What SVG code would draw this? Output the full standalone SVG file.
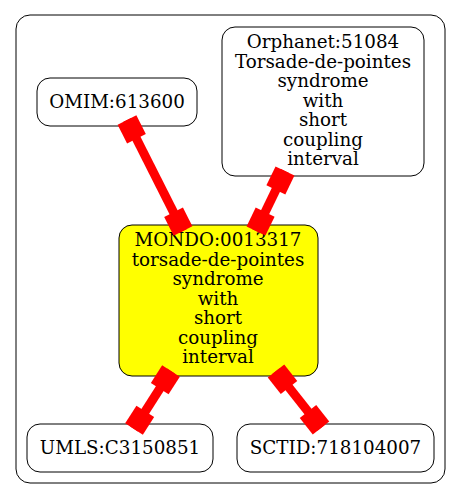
<svg xmlns="http://www.w3.org/2000/svg" width="461" height="499" viewBox="0 0 461 499">
<style>
.node rect{stroke:#000;stroke-width:1;fill:#fff}
.node.focus rect{fill:#ffff00}
text{font-family:"DejaVu Serif","Liberation Serif",serif;font-size:18.3px;text-anchor:middle;fill:#000}
.edge{stroke:#ff0000;stroke-width:9;fill:none;marker-start:url(#box);marker-end:url(#box)}
</style>
<defs>
<marker id="box" markerUnits="userSpaceOnUse" orient="auto-start-reverse" viewBox="-24 -13 26 26" refX="0" refY="0" markerWidth="26" markerHeight="26">
<rect x="-21" y="-10.5" width="21" height="21" fill="#ff0000"/>
</marker>
</defs>
<rect x="16" y="15" width="429" height="468" rx="14" ry="14" fill="#fff" stroke="#000" stroke-width="1"/>
<g id="n_omim" class="node">
<rect x="37" y="78" width="160" height="48" rx="13" ry="13"/>
<text x="117" y="108">OMIM:613600</text>
</g>
<g id="n_orphanet" class="node">
<rect x="222" y="27" width="202" height="149" rx="13" ry="13"/>
<text x="323" y="48">Orphanet:51084</text>
<text x="323" y="67.5">Torsade-de-pointes</text>
<text x="323" y="87">syndrome</text>
<text x="323" y="106.5">with</text>
<text x="323" y="126">short</text>
<text x="323" y="145.5">coupling</text>
<text x="323" y="165">interval</text>
</g>
<g id="n_mondo" class="node focus">
<rect x="119" y="225" width="199" height="151" rx="13" ry="13"/>
<text x="218" y="246">MONDO:0013317</text>
<text x="218" y="265.5">torsade-de-pointes</text>
<text x="218" y="285">syndrome</text>
<text x="218" y="304.5">with</text>
<text x="218" y="324">short</text>
<text x="218" y="343.5">coupling</text>
<text x="218" y="363">interval</text>
</g>
<g id="n_umls" class="node">
<rect x="27" y="424" width="186" height="48" rx="13" ry="13"/>
<text x="120" y="454">UMLS:C3150851</text>
</g>
<g id="n_sctid" class="node">
<rect x="237" y="424" width="197" height="48" rx="13" ry="13"/>
<text x="335.5" y="454">SCTID:718104007</text>
</g>
<g id="connectors">
<path class="edge" d="M127,120 L183,231"/>
<path class="edge" d="M285,171 L256,231"/>
<path class="edge" d="M171,371 L134,429"/>
<path class="edge" d="M276,371 L321,428"/>
</g>
</svg>
